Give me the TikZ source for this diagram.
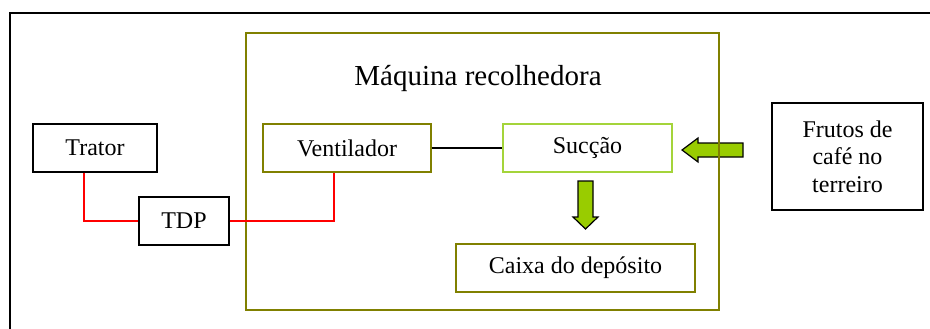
\documentclass[tikz,border=0pt]{standalone}
\usepackage{fontspec}
\setmainfont{Liberation Serif}
\definecolor{olivebox}{HTML}{808000}
\definecolor{limebox}{HTML}{A4D43A}
\definecolor{arrowgreen}{HTML}{99CC00}
\definecolor{redline}{HTML}{FF0000}
\begin{document}
\begin{tikzpicture}[x=1pt,y=-1pt,
  blackbox/.style={draw=black,line width=1.3pt,inner sep=0pt,font=\fontsize{24}{27.5}\selectfont,align=center},
  olivenode/.style={draw=olivebox,line width=1.3pt,inner sep=0pt,font=\fontsize{24}{27.5}\selectfont},
  limenode/.style={draw=limebox,line width=1.3pt,inner sep=0pt,font=\fontsize{24}{27.5}\selectfont},
  redlink/.style={draw=redline,line width=1.2pt},
  blocky/.style={draw=black,line width=1.2pt,fill=arrowgreen,line join=miter}]
\useasboundingbox (0,0) rectangle (930,329);
\fill[white] (0,0) rectangle (930,329);
% outer frame
\draw[line width=1.4pt] (10,329) -- (10,13) -- (930,13);
% green block arrows
\draw[blocky] (743,143) -- (698,143) -- (698,138) -- (682,150) -- (698,162) -- (698,157) -- (743,157) -- cycle;
\draw[blocky] (578,181) -- (593,181) -- (593,217) -- (598,217) -- (585.5,229) -- (573,217) -- (578,217) -- cycle;
% machine box
\node[draw=olivebox,line width=1.3pt,minimum width=473pt,minimum height=277pt,inner sep=0pt] (maquina) at (482.5,171.5) {};
\node[font=\fontsize{29}{33}\selectfont,inner sep=0pt] (titulo) at (478,79) {Máquina recolhedora};
% nodes
\node[blackbox,minimum width=124pt,minimum height=48pt] (trator) at (95,148) {Trator};
\node[blackbox,minimum width=90pt,minimum height=48pt] (tdp) at (184,221) {TDP};
\node[olivenode,minimum width=168pt,minimum height=48pt] (ventilador) at (347,148) {Ventilador};
\node[limenode,minimum width=169pt,minimum height=48pt] (succao) at (587.5,148) {Sucção};
\node[olivenode,minimum width=239pt,minimum height=48pt] (caixa) at (575.5,268) {Caixa do depósito};
\node[blackbox,minimum width=151pt,minimum height=107pt] (frutos) at (847.5,156.5) {Frutos de\\café no\\terreiro};
% connectors
\draw[redlink] ([xshift=-11pt]trator.south) |- (tdp.west);
\draw[redlink] (tdp.east) -| ([xshift=-13pt]ventilador.south);
\draw[line width=1.2pt] (ventilador.east) -- (succao.west);
\end{tikzpicture}
\end{document}
